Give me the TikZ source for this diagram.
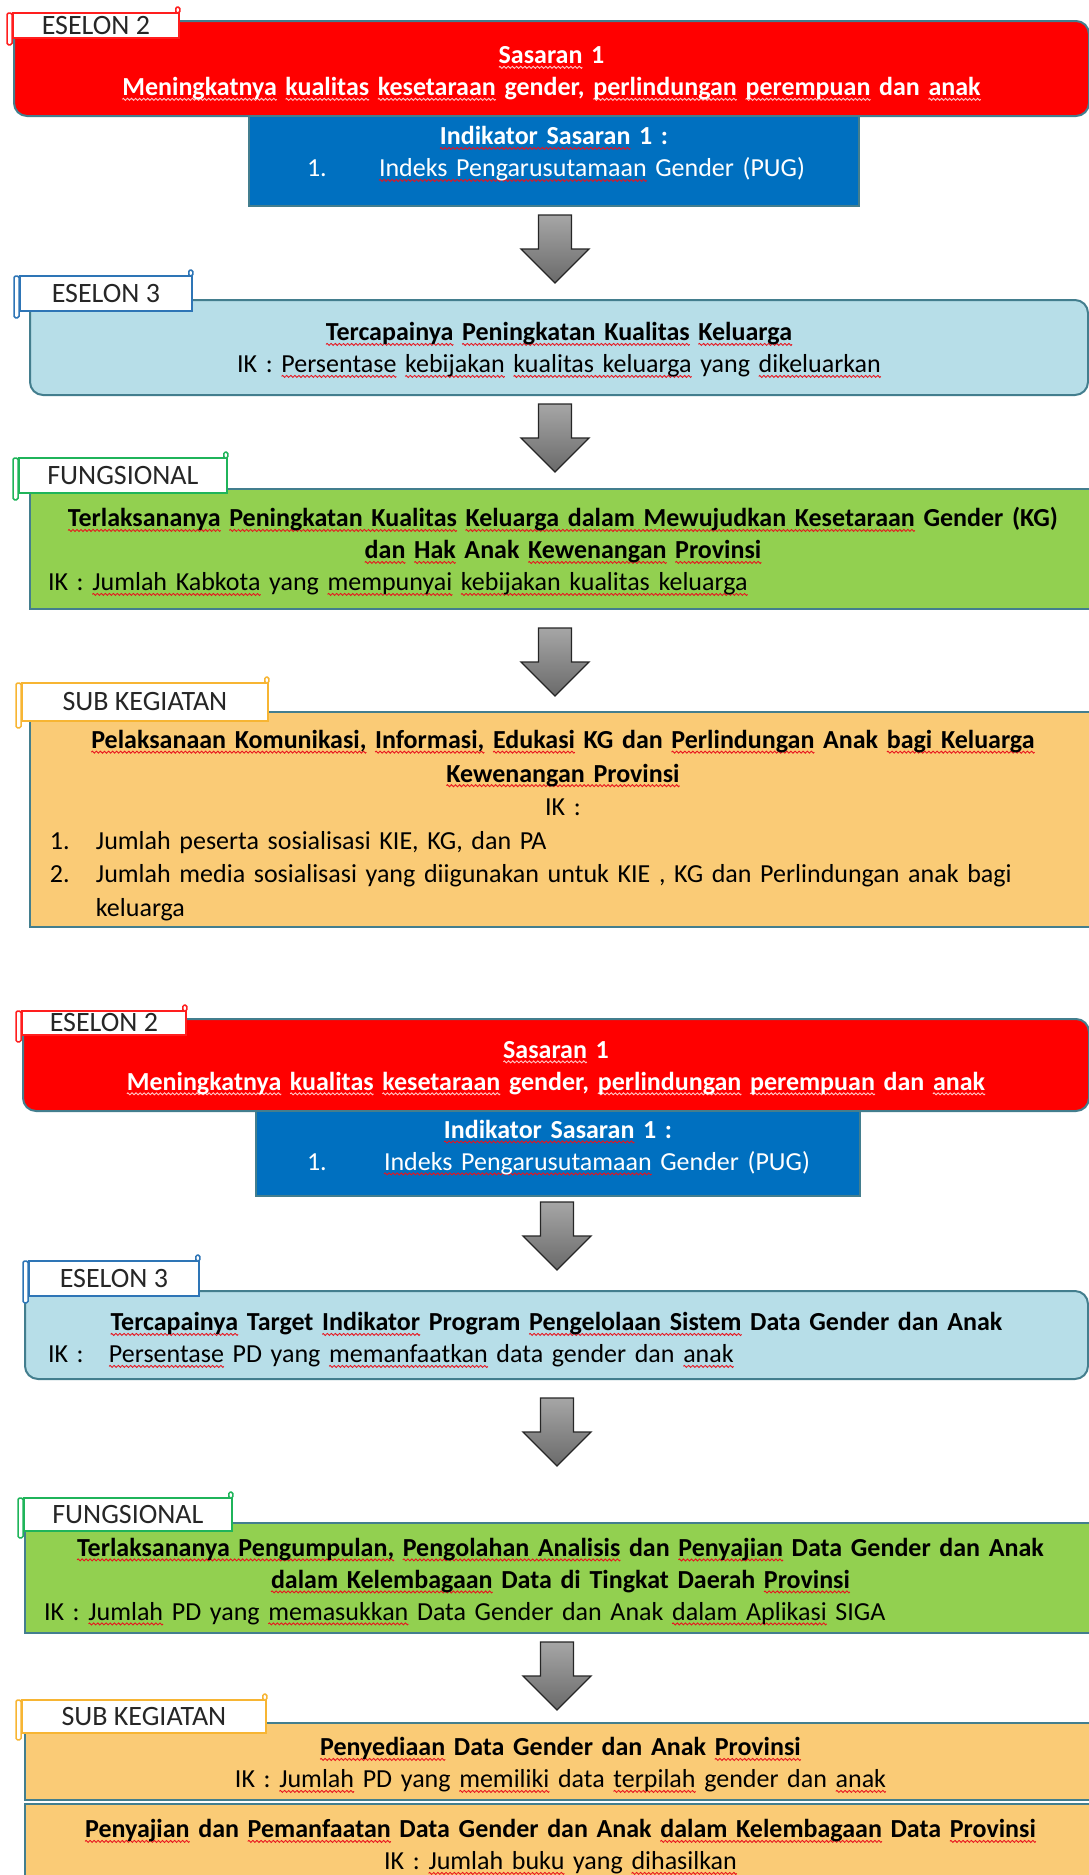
\documentclass[tikz,border=0pt]{standalone}
\usepackage{fontspec}
\setmainfont{Carlito}
\usetikzlibrary{calc}

\definecolor{sasaranred}{HTML}{FF0000}
\definecolor{indblue}{HTML}{0070C0}
\definecolor{eselonblue}{HTML}{B7DEE8}
\definecolor{fungsgreen}{HTML}{92D050}
\definecolor{subgold}{HTML}{FACB76}
\definecolor{edge}{HTML}{437E8E}
\definecolor{tabred}{HTML}{FF1E1E}
\definecolor{tabblue}{HTML}{2E75B6}
\definecolor{tabgreen}{HTML}{1FB45A}
\definecolor{tabgold}{HTML}{F7B533}
\definecolor{spell}{HTML}{E8141E}
\definecolor{spelllight}{HTML}{FFC8C8}
\definecolor{arrowtop}{HTML}{A6A6A6}
\definecolor{arrowbot}{HTML}{6A6A6A}

% spell-checker squiggle under a run of words
\newsavebox\wavebox
\newsavebox\wavelightbox
\newsavebox\sqtext
\newcommand\makewave[2]{%
  \sbox#1{\pgfpicture
    \pgfpathrectangle{\pgfpoint{0pt}{-1.5pt}}{\pgfpoint{4pt}{3pt}}%
    \pgfusepath{use as bounding box}%
    \pgfsetlinewidth{0.9pt}\pgfsetstrokecolor{#2}%
    \pgfpathmoveto{\pgfpoint{0pt}{0pt}}%
    \pgfpathlineto{\pgfpoint{1pt}{1pt}}%
    \pgfpathlineto{\pgfpoint{3pt}{-1pt}}%
    \pgfpathlineto{\pgfpoint{4pt}{0pt}}%
    \pgfusepath{stroke}%
  \endpgfpicture}}
\newcommand\wavyunder[2]{%
  \leavevmode
  \sbox\sqtext{#2}%
  \rlap{\raisebox{-5pt}[0pt][0pt]{\hbox to \wd\sqtext{\xleaders\copy#1\hfil}}}%
  \usebox\sqtext}
\newcommand\sq[1]{\wavyunder{\wavebox}{#1}}
\newcommand\sqw[1]{\wavyunder{\wavelightbox}{#1}}
\newcommand\bodysize{\fontsize{26}{32}\selectfont}
% trailing space under a text block: lifts the block by half the amount
\newcommand\lift[1]{\par\vspace*{#1}}
% draws a text block lower by the given amount, keeping its size
\newcommand\lowerby[2]{\noindent\raisebox{-#1}[\height][\depth]{\parbox{\hsize}{#2}}}

% rolled ends of a label tab
\newcommand\tabcurl[2]{%
  \draw[draw=#2, line width=1.5pt, fill=white, rounded corners=1.5pt]
    ([xshift=-5pt,yshift=-1pt]#1.north west) rectangle ([yshift=-6pt]#1.south west);
  \draw[draw=#2, line width=1.5pt, fill=white, rounded corners=1.5pt]
    ([xshift=-4pt,yshift=5pt]#1.north east) rectangle ([yshift=-1pt]#1.north east);
}

\tikzset{
  box/.style={draw=edge, line width=2pt, inner sep=0pt, anchor=north west,
    font=\bodysize\bfseries},
  tab/.style={draw=#1, line width=1.8pt, fill=white, inner sep=0pt, anchor=north west,
    font=\fontsize{28}{28}\selectfont, text=black!85},
  pics/downarrow/.style={code={
    \draw[line width=1.3pt, draw=black!85, top color=arrowtop, bottom color=arrowbot, line join=miter]
      (-16.5,0) -- (16.5,0) -- (16.5,34) -- (34,34) -- (0,68) -- (-34,34) -- (-16.5,34) -- cycle;
  }}
}

\begin{document}
\makewave{\wavebox}{spell}
\makewave{\wavelightbox}{spelllight}
\begin{tikzpicture}[x=1pt,y=-1pt]
\useasboundingbox (0,0) rectangle (1089,1875);
\clip (0,0) rectangle (1089,1875);

% ---------------- first chain ----------------
\node[box, fill=sasaranred, rounded corners=13pt, minimum width=1075, text width=1075,
  minimum height=95, text=white] (sasA) at (13,20)
  {\centering\sqw{Sasaran} 1\\ \sqw{Meningkatnya} \sqw{kualitas} \sqw{kesetaraan} gender, \sqw{perlindungan} \sqw{perempuan} dan \sqw{anak}\lift{-10pt}};

\node[box, fill=indblue, minimum width=610, text width=610, minimum height=90, text=white] (indA) at (248,115)
  {\centering\sq{Indikator Sasaran} 1 :\par\raggedright\mdseries\hspace*{58pt}\makebox[72pt][l]{1.}\sq{Indeks Pengarusutamaan} Gender (PUG)\lift{14pt}};

\node[box, fill=eselonblue, rounded corners=13pt, minimum width=1058, text width=1058, minimum height=95] (esA) at (29,299)
  {\lowerby{2.5pt}{\centering\sq{Tercapainya} \sq{Peningkatan Kualitas} \sq{Keluarga}\\ \mdseries IK : \sq{Persentase} \sq{kebijakan} \sq{kualitas keluarga} yang \sq{dikeluarkan}}};

\node[box, fill=fungsgreen, minimum width=1066, text width=1066, minimum height=120] (fuA) at (29,488)
  {\lowerby{2.5pt}{\centering\sq{Terlaksananya} \sq{Peningkatan Kualitas} \sq{Keluarga dalam Mewujudkan Kesetaraan} Gender (KG)\\ \sq{dan} \sq{Hak} Anak \sq{Kewenangan} \sq{Provinsi}\par
   \raggedright\mdseries\hspace*{18pt}IK : \sq{Jumlah Kabkota} yang \sq{mempunyai} \sq{kebijakan kualitas keluarga}}};

\node[box, fill=subgold, minimum width=1066, text width=1066, minimum height=215,
  font=\fontsize{26}{33.5}\selectfont\bfseries] (sbA) at (29,711)
  {\lowerby{6pt}{\centering\sq{Pelaksanaan Komunikasi,} \sq{Informasi,} \sq{Edukasi} KG dan \sq{Perlindungan} Anak \sq{bagi Keluarga}\\ \sq{Kewenangan Provinsi}\par
   \mdseries IK :\par
   \raggedright\hangindent=66pt\hangafter=1\hspace*{20pt}\makebox[46pt][l]{1.}Jumlah peserta sosialisasi KIE, KG, dan PA\par
   \hangindent=66pt\hangafter=1\hspace*{20pt}\makebox[46pt][l]{2.}Jumlah media sosialisasi yang diigunakan untuk KIE , KG dan Perlindungan anak bagi\newline keluarga}};

\node[tab=tabred, minimum width=166, minimum height=25] (tA1) at (12,12) {ESELON 2};
\tabcurl{tA1}{tabred}
\node[tab=tabblue, minimum width=172, minimum height=35] (tA2) at (19,275) {ESELON 3};
\tabcurl{tA2}{tabblue}
\node[tab=tabgreen, minimum width=208, minimum height=35] (tA3) at (18,457) {FUNGSIONAL};
\tabcurl{tA3}{tabgreen}
\node[tab=tabgold, minimum width=246, minimum height=38] (tA4) at (21,682) {SUB KEGIATAN};
\tabcurl{tA4}{tabgold}

\pic (arA1) at (555,215) {downarrow};
\pic (arA2) at (555,404) {downarrow};
\pic (arA3) at (555,628) {downarrow};

% ---------------- second chain ----------------
\node[box, fill=sasaranred, rounded corners=13pt, minimum width=1066, text width=1066,
  minimum height=92, text=white] (sasB) at (22,1018)
  {\centering\sqw{Sasaran} 1\\ \sqw{Meningkatnya} \sqw{kualitas} \sqw{kesetaraan} gender, \sqw{perlindungan} \sqw{perempuan} dan \sqw{anak}\lift{-6pt}};

\node[box, fill=indblue, minimum width=604, text width=604, minimum height=85, text=white] (indB) at (255,1110)
  {\centering\sq{Indikator Sasaran} 1 :\par\raggedright\mdseries\hspace*{51pt}\makebox[77pt][l]{1.}\sq{Indeks Pengarusutamaan} Gender (PUG)\lift{12pt}};

\node[box, fill=eselonblue, rounded corners=13pt, minimum width=1063, text width=1063, minimum height=88] (esB) at (24,1290)
  {\lowerby{5pt}{\centering\sq{Tercapainya} Target \sq{Indikator} Program \sq{Pengelolaan Sistem} Data Gender dan Anak\par
   \raggedright\mdseries\hspace*{23pt}\makebox[61pt][l]{IK :}\sq{Persentase} PD yang \sq{memanfaatkan} data gender dan \sq{anak}}};

\node[box, fill=fungsgreen, minimum width=1071, text width=1071, minimum height=110] (fuB) at (24,1522)
  {\lowerby{3.5pt}{\centering\sq{Terlaksananya Pengumpulan,} \sq{Pengolahan Analisis} dan \sq{Penyajian} Data Gender dan Anak\\ \sq{dalam Kelembagaan} Data di Tingkat Daerah \sq{Provinsi}\par
   \raggedright\mdseries\hspace*{19pt}IK : \sq{Jumlah} PD yang \sq{memasukkan} Data Gender dan Anak \sq{dalam Aplikasi} SIGA}};

\node[box, fill=subgold, minimum width=1071, text width=1071, minimum height=77] (sbB1) at (24,1722)
  {\lowerby{3.5pt}{\centering\sq{Penyediaan} Data Gender dan Anak \sq{Provinsi}\\ \mdseries IK : \sq{Jumlah} PD yang \sq{memiliki} data \sq{terpilah} gender dan \sq{anak}}};

\node[box, fill=subgold, minimum width=1071, text width=1071, minimum height=86] (sbB2) at (24,1803)
  {\centering\sq{Penyajian} dan \sq{Pemanfaatan} Data Gender dan Anak \sq{dalam Kelembagaan} Data \sq{Provinsi}\\ \mdseries IK : \sq{Jumlah buku} yang \sq{dihasilkan}\par};

\node[tab=tabred, minimum width=164, minimum height=24] (tB1) at (21,1010) {ESELON 2};
\tabcurl{tB1}{tabred}
\node[tab=tabblue, minimum width=170, minimum height=35] (tB2) at (28,1260) {ESELON 3};
\tabcurl{tB2}{tabblue}
\node[tab=tabgreen, minimum width=208, minimum height=33] (tB3) at (23,1497) {FUNGSIONAL};
\tabcurl{tB3}{tabgreen}
\node[tab=tabgold, minimum width=244, minimum height=33] (tB4) at (21,1699) {SUB KEGIATAN};
\tabcurl{tB4}{tabgold}

\pic (arB1) at (557,1202) {downarrow};
\pic (arB2) at (557,1398) {downarrow};
\pic (arB3) at (557,1642) {downarrow};
\end{tikzpicture}
\end{document}
